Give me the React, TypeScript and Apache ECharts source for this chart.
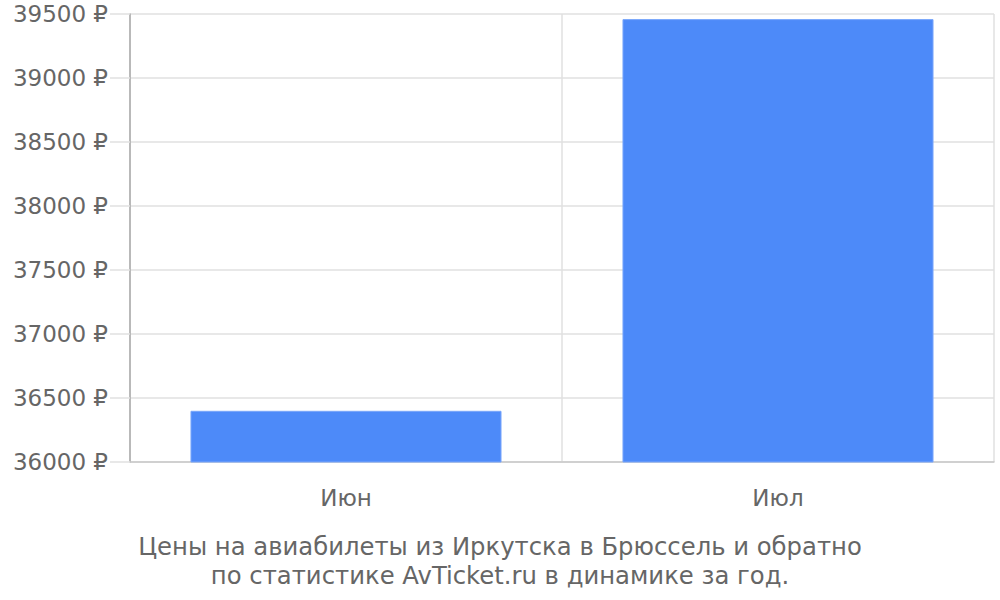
import * as echarts from 'echarts'
import { useEffect, useRef } from 'react'

const months = ['Июн', 'Июл']
const prices = [36400, 39460]
const yMin = 36000
const yMax = 39500
const yStep = 500
const captionLines = [
  'Цены на авиабилеты из Иркутска в Брюссель и обратно',
  'по статистике AvTicket.ru в динамике за год.',
]

const FONT = 'DejaVu Sans'

export default function App() {
  const chartRef = useRef<HTMLDivElement>(null)

  useEffect(() => {
    if (!chartRef.current) return
    const chart = echarts.init(chartRef.current, null, { renderer: 'svg' })

    chart.setOption({
      animation: false,
      textStyle: { fontFamily: FONT },
      graphic: [
        {
          type: 'text',
          left: 'center',
          top: 532,
          style: {
            text: captionLines.join('\n'),
            font: `24.3px "${FONT}"`,
            fill: '#666',
            lineHeight: 29,
            textAlign: 'center',
          },
        },
      ],
      grid: { left: 130, right: 6, top: 14, bottom: 138 },
      xAxis: {
        type: 'category',
        data: months,
        axisLine: { lineStyle: { color: '#c8c8c8', width: 1.5 } },
        axisTick: { length: 19, lineStyle: { color: '#e0e0e0', width: 1.5 } },
        splitLine: { show: true, lineStyle: { color: '#e0e0e0', width: 1.5 } },
        axisLabel: { color: '#666', fontSize: 23, fontFamily: FONT, margin: 24 },
      },
      yAxis: {
        type: 'value',
        min: yMin,
        max: yMax,
        interval: yStep,
        axisLine: { show: true, lineStyle: { color: '#aaa', width: 1.5 } },
        axisTick: { show: true, length: 20, lineStyle: { color: '#e0e0e0', width: 1.5 } },
        splitLine: { lineStyle: { color: '#e0e0e0', width: 1.5 } },
        axisLabel: {
          color: '#666',
          fontSize: 23,
          fontFamily: FONT,
          margin: 22,
          formatter: (v: number) => `${v} ₽`,
        },
      },
      series: [
        {
          type: 'bar',
          data: prices,
          barCategoryGap: '28%',
          itemStyle: { color: '#4d8af9', borderColor: '#7aa7fb', borderWidth: 1 },
        },
      ],
    })

    return () => chart.dispose()
  }, [])

  return (
    <div
      ref={chartRef}
      style={{ position: 'absolute', left: 0, top: 0, width: 1000, height: 600 }}
    />
  )
}
